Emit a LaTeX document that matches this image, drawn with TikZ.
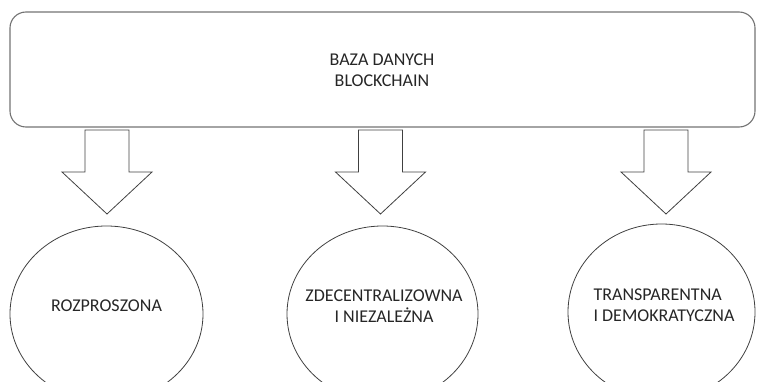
\documentclass[tikz,border=0pt]{standalone}
\usepackage{fontspec}
\setmainfont{Carlito}
\usetikzlibrary{calc}
\begin{document}
\begin{tikzpicture}[x=1pt,y=-1pt,
  boxline/.style={draw=black!55, line width=1.1pt},
  shapeline/.style={draw=black!75, line width=0.8pt},
  lbl/.style={font=\fontsize{18}{21.5}\selectfont, text=black!85, align=center, inner sep=0pt}
]
\useasboundingbox (0,0) rectangle (757,382);
\clip (0,0) rectangle (757,382);
% top box
\draw[boxline, rounded corners=16pt] (10,12) rectangle (755,127);
\node[lbl] (db) at (382,70) {BAZA DANYCH\\BLOCKCHAIN};
% ellipses
\draw[shapeline] (106.5,314) ellipse [x radius=96.5, y radius=88];
\draw[shapeline] (382.5,314) ellipse [x radius=95.5, y radius=88];
\draw[shapeline] (661.5,312) ellipse [x radius=93.5, y radius=88];
\node[lbl] (e1) at (106.5,306) {ROZPROSZONA};
\node[lbl] (e2) at (384,306) {ZDECENTRALIZOWNA\\I NIEZALEŻNA};
\node[lbl, align=left] (e3) at (664,305) {TRANSPARENTNA\\I DEMOKRATYCZNA};
% block arrows
\foreach \cx/\nm in {107/a1, 380.5/a2, 666/a3}{
  \coordinate (\nm) at (\cx,130);
  \draw[shapeline, line join=miter]
    ($(\nm)+(-22,0)$) -- ($(\nm)+(22,0)$) -- ($(\nm)+(22,42)$) -- ($(\nm)+(45,42)$)
    -- ($(\nm)+(0,84)$) -- ($(\nm)+(-45,42)$) -- ($(\nm)+(-22,42)$) -- cycle;
}
\end{tikzpicture}
\end{document}
